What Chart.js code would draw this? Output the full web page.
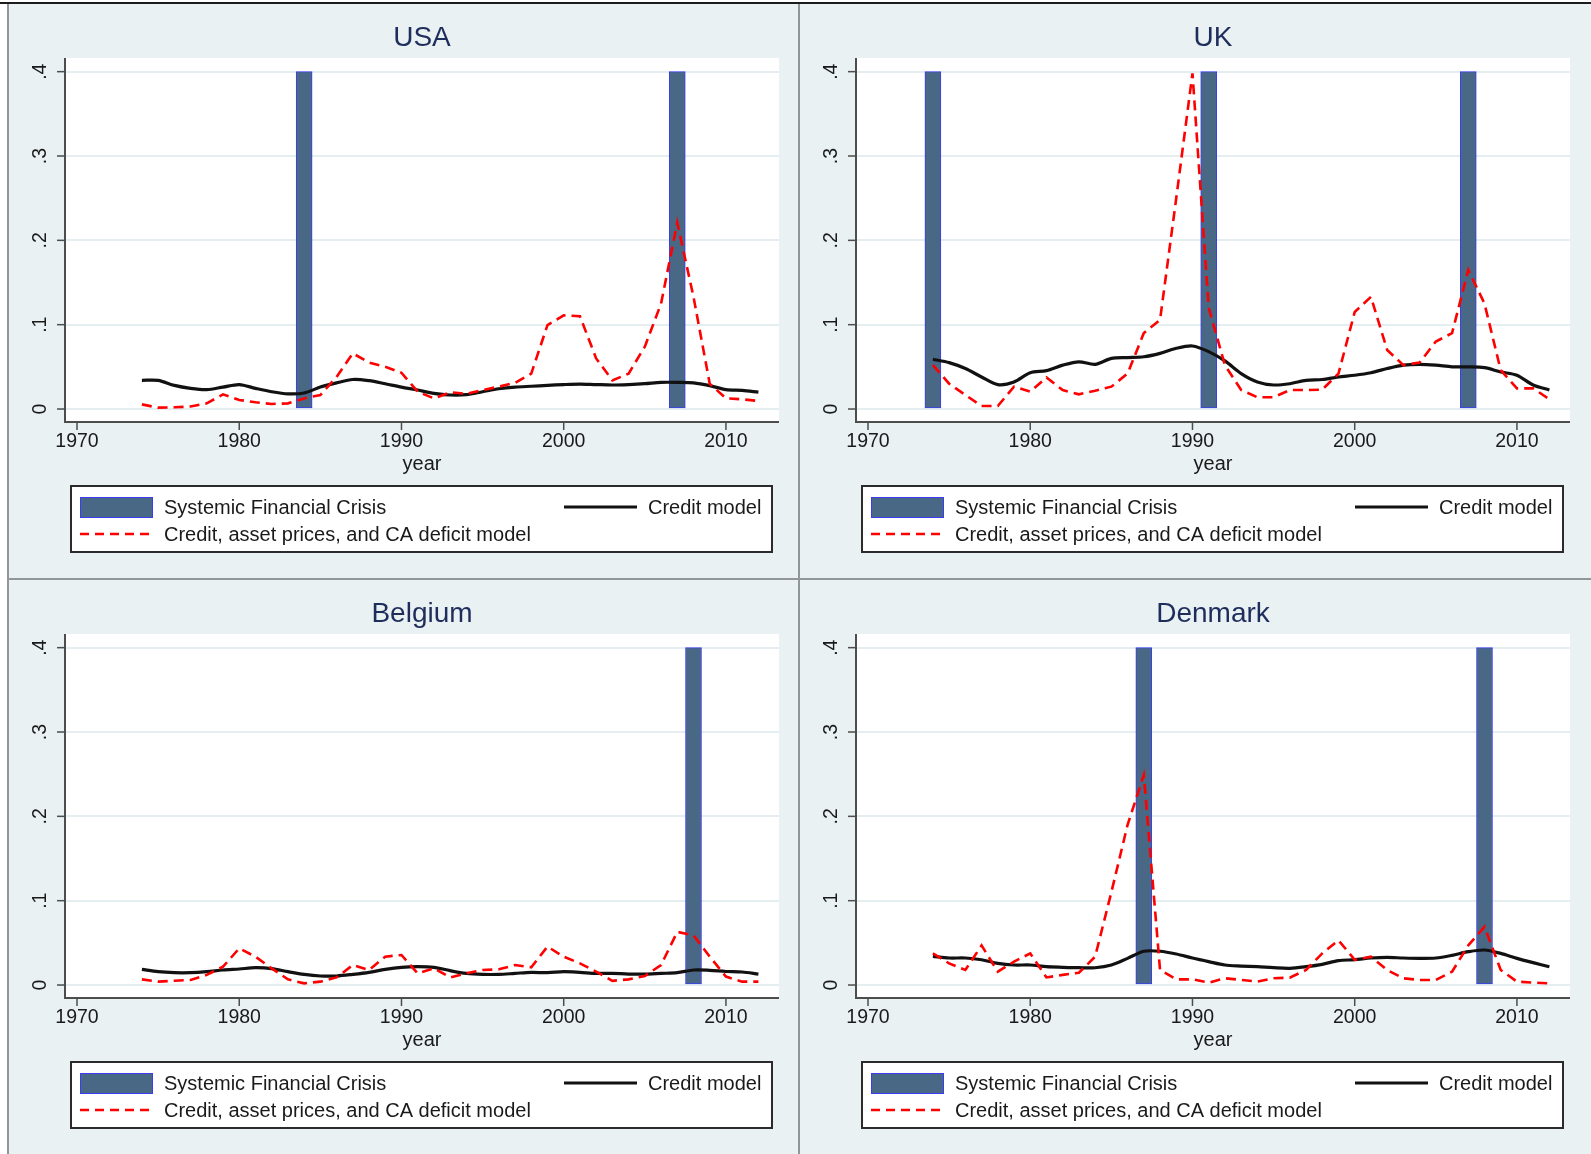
<!DOCTYPE html>
<html>
<head>
<meta charset="utf-8">
<script src="https://cdn.jsdelivr.net/npm/chart.js@4.4.1/dist/chart.umd.min.js"></script>
<style>
  body { margin: 0; background: #fff; }
  #page { position: relative; width: 1591px; height: 1154px; overflow: hidden; background: #fff; }
  canvas { position: absolute; }
  .rule { position: absolute; background: #929698; }
</style>
</head>
<body>
<div id="page">
  <div style="position:absolute;left:8px;top:4px;width:1583px;height:1150px;background:#e9f1f3"></div>
  <canvas id="usa" width="791" height="575" style="left:8px;top:4px"></canvas>
  <canvas id="uk" width="792" height="575" style="left:799px;top:4px"></canvas>
  <canvas id="be" width="791" height="574" style="left:8px;top:580px"></canvas>
  <canvas id="dk" width="792" height="574" style="left:799px;top:580px"></canvas>
  <div class="rule" style="left:0;top:2px;width:1591px;height:2px;background:#1c1c1c"></div>
  <div class="rule" style="left:7px;top:4px;width:2px;height:1150px"></div>
  <div class="rule" style="left:798px;top:4px;width:2px;height:1150px"></div>
  <div class="rule" style="left:8px;top:578px;width:1583px;height:2px"></div>
</div>
<script>
const years = [1974, 1975, 1976, 1977, 1978, 1979, 1980, 1981, 1982, 1983,
  1984, 1985, 1986, 1987, 1988, 1989, 1990, 1991, 1992, 1993,
  1994, 1995, 1996, 1997, 1998, 1999, 2000, 2001, 2002, 2003,
  2004, 2005, 2006, 2007, 2008, 2009, 2010, 2011, 2012];

const xTicks = [1970, 1980, 1990, 2000, 2010];
const yTicks = [0, 0.1, 0.2, 0.3, 0.4];
const yTickLabels = ["0", ".1", ".2", ".3", ".4"];
const crisisTop = 0.4;

const usaCrisis = [1984, 2007];
const usaCredit = [0.034, 0.034, 0.028, 0.0245, 0.023, 0.026, 0.029, 0.0245, 0.0205, 0.018,
  0.019, 0.026, 0.031, 0.035, 0.0336, 0.030, 0.026, 0.0225, 0.0186, 0.0166,
  0.017, 0.0205, 0.024, 0.026, 0.027, 0.028, 0.029, 0.0296, 0.029, 0.0285,
  0.029, 0.030, 0.0316, 0.0316, 0.031, 0.0277, 0.023, 0.022, 0.020];
const usaFull = [0.0055, 0.0016, 0.002, 0.003, 0.0067, 0.0174, 0.0107, 0.008, 0.006, 0.0067,
  0.0126, 0.0166, 0.038, 0.066, 0.055, 0.050, 0.043, 0.0205, 0.0126, 0.0198,
  0.018, 0.0225, 0.0265, 0.031, 0.042, 0.0996, 0.111, 0.110, 0.06, 0.034,
  0.042, 0.074, 0.125, 0.221, 0.133, 0.03, 0.0126, 0.0115, 0.0095];

const ukCrisis = [1974, 1991, 2007];
const ukCredit = [0.059, 0.055, 0.048, 0.038, 0.029, 0.032, 0.043, 0.0455, 0.052, 0.056,
  0.053, 0.060, 0.061, 0.062, 0.066, 0.072, 0.0747, 0.068, 0.057, 0.042,
  0.032, 0.0285, 0.030, 0.034, 0.035, 0.038, 0.040, 0.043, 0.048, 0.052,
  0.053, 0.052, 0.050, 0.050, 0.049, 0.044, 0.040, 0.0285, 0.0225];
const ukFull = [0.052, 0.030, 0.0166, 0.0036, 0.0036, 0.0265, 0.0205, 0.0375, 0.0225, 0.0174,
  0.0217, 0.0265, 0.042, 0.090, 0.1055, 0.25, 0.398, 0.12, 0.052, 0.0225,
  0.014, 0.014, 0.0225, 0.0225, 0.023, 0.042, 0.115, 0.133, 0.070, 0.052,
  0.055, 0.080, 0.090, 0.165, 0.125, 0.046, 0.0245, 0.0245, 0.0115];

const beCrisis = [2008];
const beCredit = [0.0186, 0.0158, 0.0146, 0.0146, 0.0158, 0.0178, 0.019, 0.0205, 0.0194, 0.0158,
  0.0126, 0.0107, 0.0107, 0.0126, 0.015, 0.0186, 0.021, 0.0217, 0.021, 0.017,
  0.0138, 0.0126, 0.0126, 0.0138, 0.015, 0.0146, 0.0158, 0.015, 0.0138, 0.0138,
  0.013, 0.013, 0.0138, 0.0146, 0.0178, 0.0174, 0.016, 0.0154, 0.013];
const beFull = [0.0067, 0.004, 0.005, 0.006, 0.012, 0.0217, 0.0435, 0.0336, 0.0198, 0.0067,
  0.002, 0.004, 0.009, 0.0237, 0.0178, 0.0336, 0.0356, 0.0138, 0.0198, 0.009,
  0.0138, 0.0178, 0.0186, 0.0237, 0.021, 0.0455, 0.0336, 0.0257, 0.0158, 0.005,
  0.0067, 0.0107, 0.0237, 0.063, 0.059, 0.0336, 0.01, 0.004, 0.004];

const dkCrisis = [1987, 2008];
const dkCredit = [0.034, 0.032, 0.032, 0.030, 0.0257, 0.0237, 0.0237, 0.0217, 0.021, 0.0205,
  0.0205, 0.0237, 0.0316, 0.040, 0.040, 0.0368, 0.032, 0.0277, 0.0237, 0.0225,
  0.0217, 0.0205, 0.0198, 0.0217, 0.0245, 0.029, 0.030, 0.032, 0.0328, 0.032,
  0.0316, 0.032, 0.0352, 0.0395, 0.0415, 0.0375, 0.0316, 0.0265, 0.0217];
const dkFull = [0.0375, 0.0257, 0.0178, 0.047, 0.0158, 0.0277, 0.0375, 0.009, 0.012, 0.0146,
  0.0336, 0.11, 0.19, 0.249, 0.018, 0.0067, 0.0067, 0.0028, 0.008, 0.006,
  0.004, 0.008, 0.0087, 0.0178, 0.0375, 0.053, 0.030, 0.0336, 0.0178, 0.008,
  0.006, 0.006, 0.0158, 0.047, 0.069, 0.0178, 0.004, 0.0028, 0.002];

const FONT = "'Liberation Sans', Arial, sans-serif";
const barFill = "#486886";
const barEdge = "#3c3cf2";
const creditColor = "#111111";
const fullColor = "#ff0000";

// stata-like frame: white plot region, axes, rotated y labels, title, legend box
const stataFrame = {
  id: "stataFrame",
  beforeDraw(chart) {
    const { ctx, chartArea: a } = chart;
    ctx.save();
    ctx.fillStyle = "#ffffff";
    ctx.fillRect(a.left, a.top, a.right - a.left, a.bottom - a.top);
    ctx.restore();
  },
  afterDraw(chart, args, opts) {
    const { ctx, chartArea: a, scales: { x, y } } = chart;
    const mid = (a.left + a.right) / 2;
    ctx.save();

    // title
    ctx.fillStyle = "#1e2d5c";
    ctx.font = "28px " + FONT;
    ctx.textAlign = "center";
    ctx.textBaseline = "middle";
    ctx.fillText(opts.title, mid, 34);

    // axis lines
    ctx.strokeStyle = "#4d4d4d";
    ctx.lineWidth = 2;
    ctx.beginPath();
    ctx.moveTo(a.left, a.top);
    ctx.lineTo(a.left, a.bottom);
    ctx.lineTo(a.right, a.bottom);
    ctx.stroke();

    // x ticks and labels
    ctx.fillStyle = "#1a1a1a";
    ctx.font = "19.5px " + FONT;
    ctx.lineWidth = 1.5;
    xTicks.forEach(v => {
      const px = x.getPixelForValue(v);
      ctx.beginPath();
      ctx.moveTo(px, a.bottom);
      ctx.lineTo(px, a.bottom + 8);
      ctx.stroke();
      ctx.fillText(String(v), px, a.bottom + 20);
    });
    ctx.font = "20px " + FONT;
    ctx.fillText("year", mid, a.bottom + 42);

    // y ticks and rotated labels
    ctx.font = "19.5px " + FONT;
    yTicks.forEach((v, i) => {
      const py = y.getPixelForValue(v);
      ctx.beginPath();
      ctx.moveTo(a.left - 8, py);
      ctx.lineTo(a.left, py);
      ctx.stroke();
      ctx.save();
      ctx.translate(a.left - 24, py);
      ctx.rotate(-Math.PI / 2);
      ctx.fillText(yTickLabels[i], 0, 0);
      ctx.restore();
    });

    // legend
    const lx = mid - 351, ly = a.bottom + 64, lw = 701, lh = 66;
    ctx.fillStyle = "#ffffff";
    ctx.fillRect(lx, ly, lw, lh);
    ctx.strokeStyle = "#2b2b2b";
    ctx.lineWidth = 2;
    ctx.strokeRect(lx, ly, lw, lh);

    const row1 = ly + 21, row2 = ly + 48;
    ctx.fillStyle = barFill;
    ctx.fillRect(lx + 9, row1 - 10, 73, 21);
    ctx.strokeStyle = barEdge;
    ctx.lineWidth = 1;
    ctx.strokeRect(lx + 9.5, row1 - 9.5, 72, 20);

    ctx.strokeStyle = creditColor;
    ctx.lineWidth = 3;
    ctx.beginPath();
    ctx.moveTo(lx + 493, row1);
    ctx.lineTo(lx + 566, row1);
    ctx.stroke();

    ctx.strokeStyle = fullColor;
    ctx.lineWidth = 2.6;
    ctx.setLineDash([9, 6]);
    ctx.beginPath();
    ctx.moveTo(lx + 9, row2);
    ctx.lineTo(lx + 82, row2);
    ctx.stroke();
    ctx.setLineDash([]);

    ctx.fillStyle = "#1a1a1a";
    ctx.font = "20px " + FONT;
    ctx.textAlign = "left";
    ctx.fillText(chart.data.datasets[0].label, lx + 93, row1 + 1);
    ctx.fillText(chart.data.datasets[1].label, lx + 577, row1 + 1);
    ctx.fillText(chart.data.datasets[2].label, lx + 93, row2 + 1);
    ctx.restore();
  }
};

function makePanel(id, title, credit, full, crisis) {
  const canvas = document.getElementById(id);
  const W = canvas.width, H = canvas.height;
  return new Chart(canvas, {
    type: "line",
    data: {
      datasets: [
        {
          type: "bar",
          label: "Systemic Financial Crisis",
          data: crisis.map(yr => ({ x: yr, y: crisisTop })),
          backgroundColor: barFill,
          borderColor: barEdge,
          borderWidth: 1,
          borderSkipped: false,
          barThickness: 16,
          order: 3
        },
        {
          label: "Credit model",
          data: years.map((yr, i) => ({ x: yr, y: credit[i] })),
          borderColor: creditColor,
          borderWidth: 3.2,
          pointRadius: 0,
          tension: 0.3,
          fill: false,
          order: 2
        },
        {
          label: "Credit, asset prices, and CA deficit model",
          data: years.map((yr, i) => ({ x: yr, y: full[i] })),
          borderColor: fullColor,
          borderWidth: 2.6,
          borderDash: [10, 6],
          pointRadius: 0,
          tension: 0,
          fill: false,
          order: 1
        }
      ]
    },
    options: {
      responsive: false,
      animation: false,
      devicePixelRatio: 1,
      layout: { padding: { left: 0, top: 54, right: W - 771, bottom: 0 } },
      plugins: {
        legend: { display: false },
        tooltip: { enabled: false },
        stataFrame: { title: title }
      },
      scales: {
        x: {
          type: "linear",
          offset: false,
          min: 1969.26,
          max: 2013.27,
          grid: { display: false, offset: false },
          border: { display: false },
          ticks: { display: false },
          afterBuildTicks: s => { s.ticks = xTicks.map(v => ({ value: v })); },
          afterFit: s => { s.height = H - 418; }
        },
        y: {
          type: "linear",
          min: -0.0154,
          max: 0.4162,
          grid: { color: "#e4edf0", lineWidth: 2, drawTicks: false },
          border: { display: false },
          ticks: { display: false },
          afterBuildTicks: s => { s.ticks = yTicks.map(v => ({ value: v })); },
          afterFit: s => { s.width = 57; }
        }
      }
    },
    plugins: [stataFrame]
  });
}

makePanel("usa", "USA", usaCredit, usaFull, usaCrisis);
makePanel("uk", "UK", ukCredit, ukFull, ukCrisis);
makePanel("be", "Belgium", beCredit, beFull, beCrisis);
makePanel("dk", "Denmark", dkCredit, dkFull, dkCrisis);
</script>
</body>
</html>
